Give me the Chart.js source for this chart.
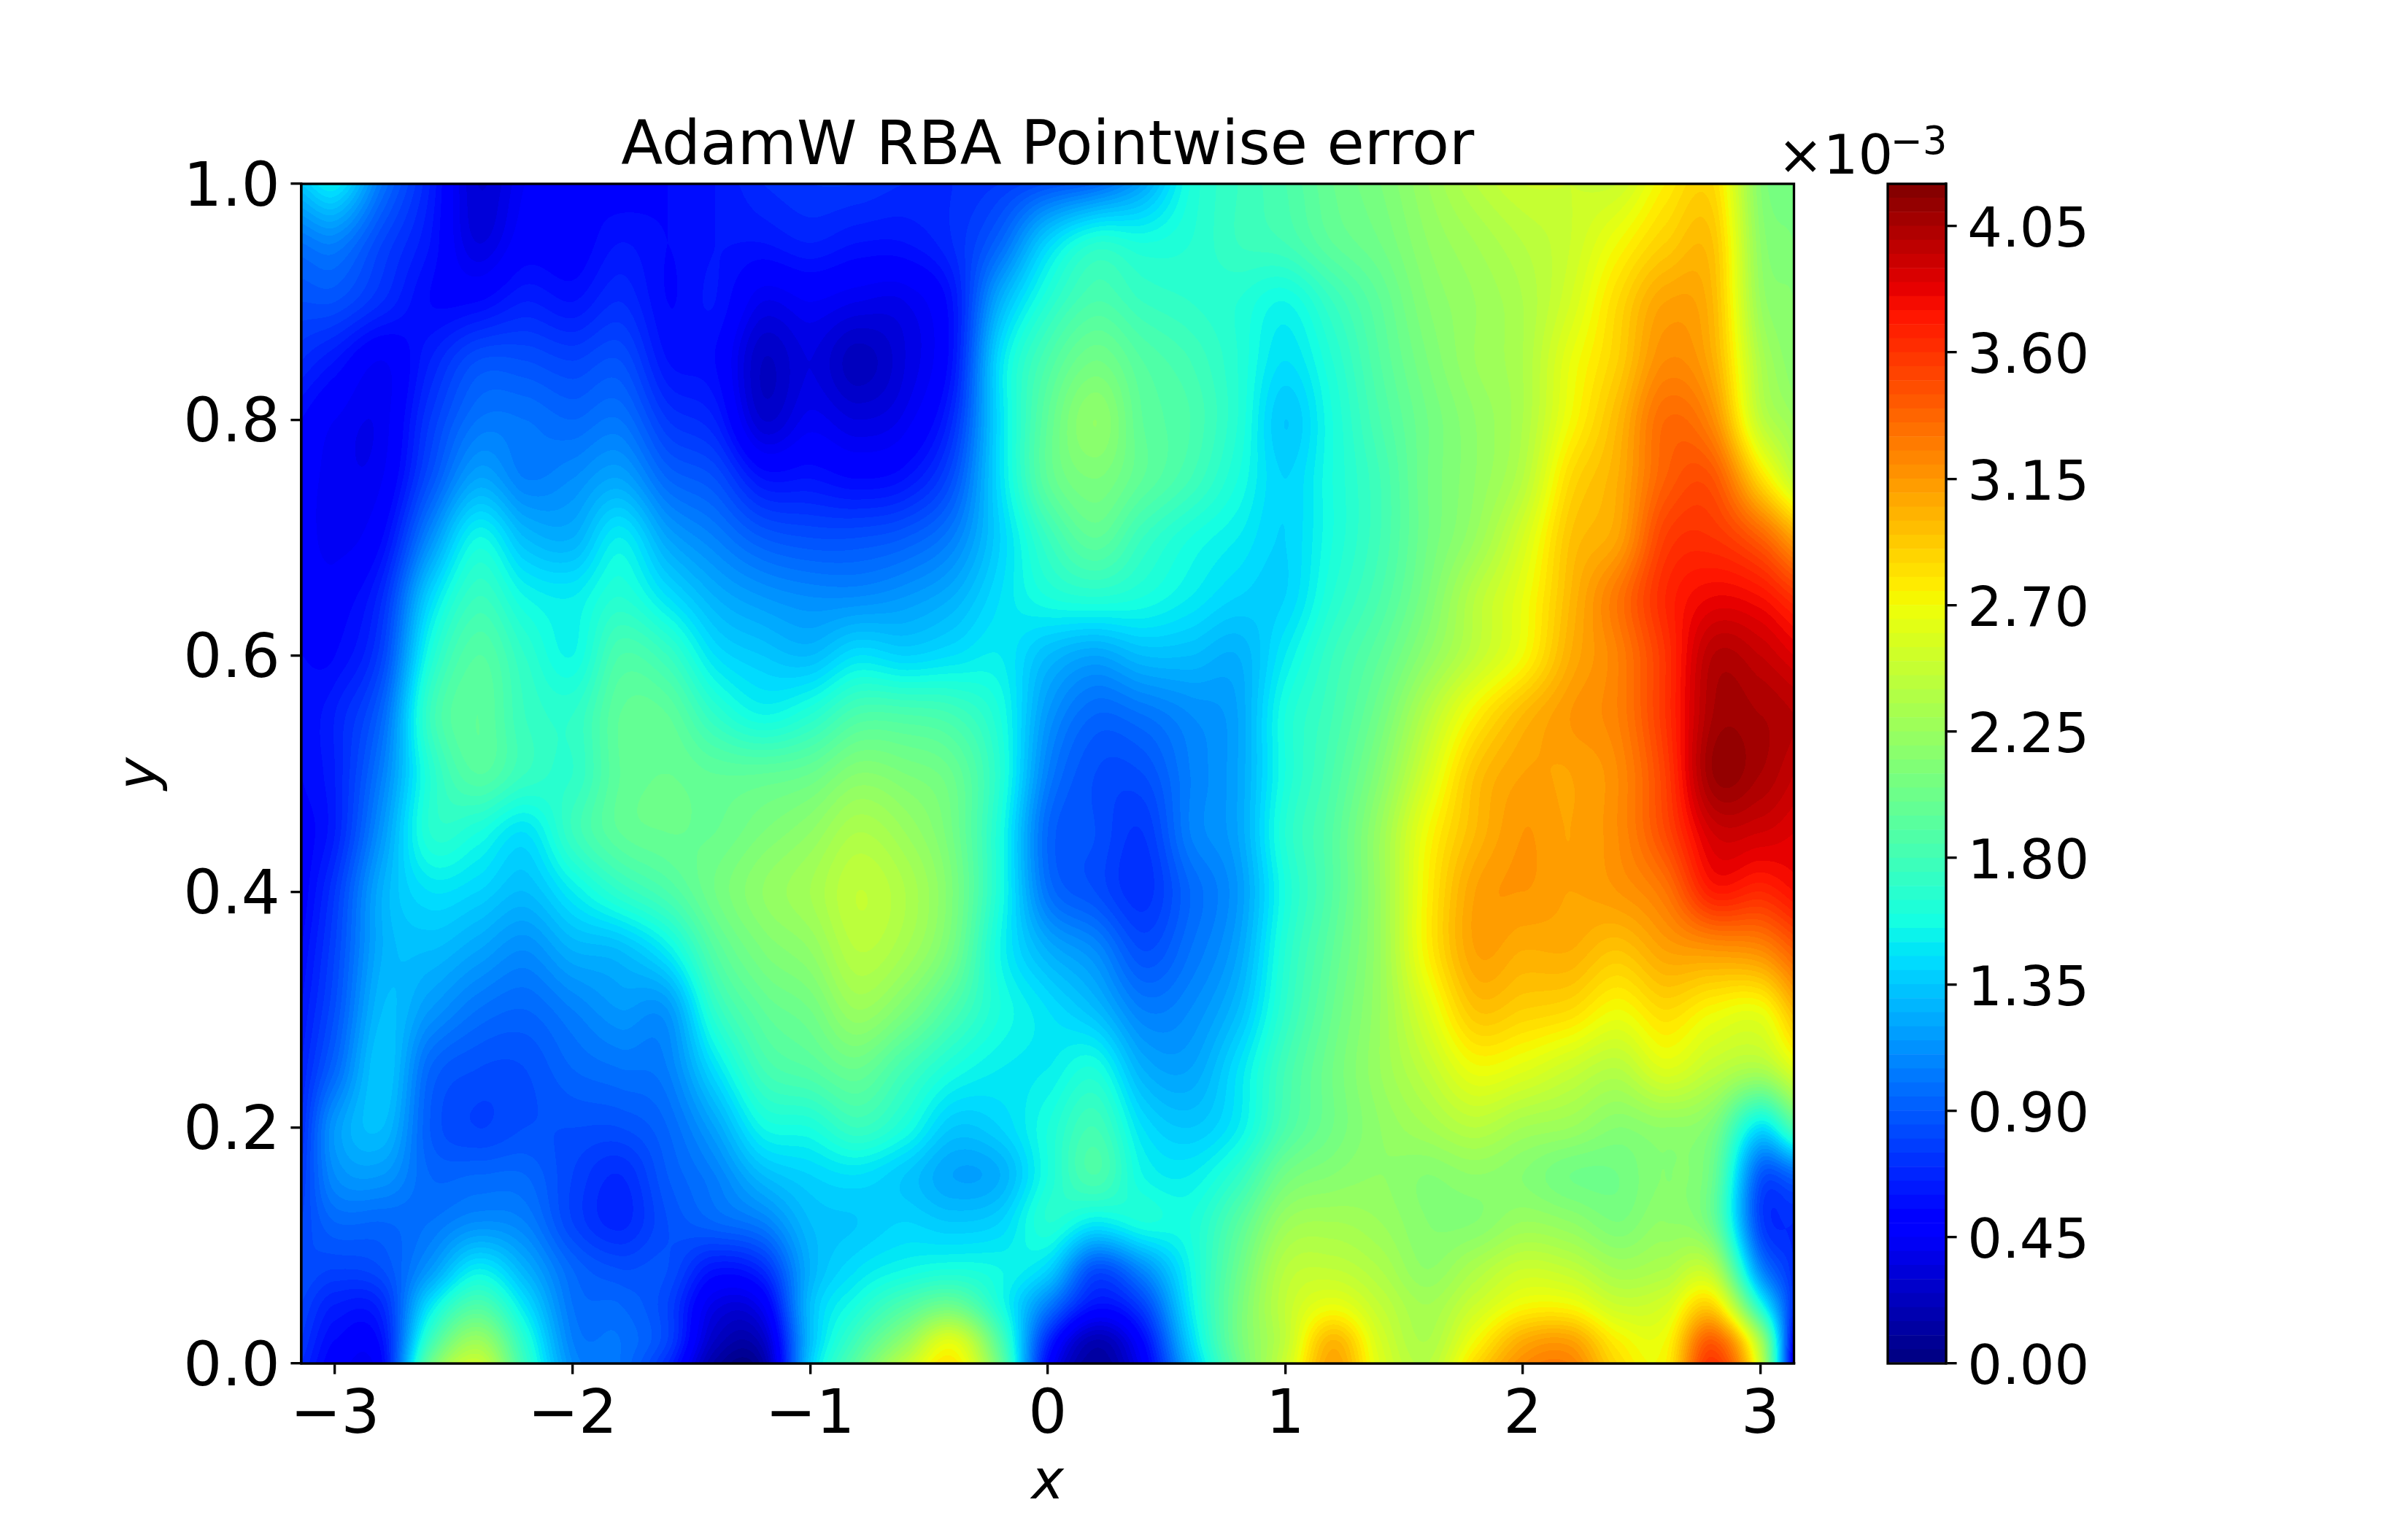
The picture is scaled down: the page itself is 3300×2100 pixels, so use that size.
<!DOCTYPE html>
<html><head><meta charset="utf-8">
<script src="https://cdn.jsdelivr.net/npm/chart.js@4"></script>
<style>html,body{margin:0;padding:0;background:#fff}canvas{position:absolute;left:0;top:0}</style>
</head><body>
<canvas id="main" width="3300" height="2100"></canvas>
<canvas id="cbar" width="3300" height="2100"></canvas>
<script>
// x positions of the read-off grid columns
const xGrid = [-3.1416,-3,-2.8,-2.6,-2.4,-2.2,-2,-1.8,-1.6,-1.4,-1.2,-1,-.8,-.6,-.4,-.2,0,.2,.4,.6,.8,1,1.2,1.4,1.6,1.8,2,2.2,2.4,2.6,2.8,3,3.1416];
// y positions of the read-off grid rows
const yGrid = [0,.02,.05,.08,.12,.16,.2,.25,.3,.35,.4,.45,.5,.55,.6,.65,.7,.75,.8,.85,.9,.95,1];
// pointwise error (units of 1e-3), one row per yGrid entry
const errorRows = [
[.7,.5,.55,2.0,2.5,1.75,1.1,1.0,.7,.13,.13,1.35,1.95,2.45,2.8,2.0,.55,.1,.45,1.3,2.0,2.5,3.1,2.6,2.4,2.85,3.2,3.25,2.85,2.75,3.6,2.5,.35],
[.75,.55,.6,1.75,2.25,1.65,1.05,1.0,.8,.25,.25,1.3,1.8,2.2,2.6,1.85,.7,.2,.55,1.4,2.05,2.45,3.0,2.55,2.35,2.7,3.05,3.1,2.75,2.7,3.4,2.3,.5],
[.8,.65,.7,1.45,1.85,1.45,1.0,.95,.8,.38,.45,1.3,1.6,1.85,2.0,1.6,1.05,.6,.8,1.5,2.05,2.45,2.65,2.45,2.3,2.5,2.7,2.7,2.5,2.55,2.85,1.6,.7],
[.85,.8,.85,1.15,1.5,1.25,.95,.85,.85,.6,.7,1.25,1.45,1.55,1.6,1.55,1.4,.85,1.1,1.55,2.0,2.4,2.45,2.35,2.2,2.35,2.5,2.45,2.3,2.35,2.4,1.1,.7],
[.8,.95,.95,1.0,1.1,1.05,.8,.68,.85,.95,1.05,1.3,1.35,1.4,1.35,1.4,1.65,1.5,1.6,1.6,1.9,2.25,2.3,2.25,2.15,2.15,2.25,2.2,2.1,2.2,2.0,.8,.7],
[.75,1.1,1.15,.95,.95,.95,.8,.7,.9,1.05,1.3,1.4,1.45,1.35,1.2,1.25,1.6,1.85,1.55,1.5,1.7,2.05,2.15,2.2,2.15,2.2,2.15,2.05,2.05,2.15,2.0,.9,.95],
[.7,1.15,1.3,.9,.8,.85,.85,.85,.95,1.2,1.55,1.6,1.75,1.6,1.35,1.4,1.6,1.8,1.45,1.35,1.5,1.85,2.05,2.2,2.3,2.4,2.3,2.25,2.15,2.2,2.1,1.45,1.85],
[.65,.95,1.35,.95,.85,.85,.95,1.0,1.05,1.45,1.8,1.9,2.0,1.8,1.6,1.5,1.5,1.6,1.25,1.2,1.45,1.8,2.05,2.25,2.45,2.68,2.62,2.5,2.4,2.6,2.45,2.35,2.6],
[.6,.85,1.3,1.15,1.0,.95,1.05,1.15,1.15,1.7,1.95,2.05,2.25,2.1,1.85,1.6,1.45,1.3,1.05,1.1,1.3,1.7,2.0,2.25,2.6,2.95,2.9,2.85,2.7,2.85,2.72,2.68,3.0],
[.55,.8,1.25,1.3,1.2,1.1,1.25,1.3,1.5,1.9,2.1,2.2,2.4,2.3,2.05,1.55,1.25,1.1,.85,1.0,1.2,1.65,1.95,2.25,2.75,3.1,3.05,3.05,2.95,3.1,3.15,3.2,3.4],
[.5,.75,1.25,1.45,1.4,1.3,1.5,1.7,1.85,2.05,2.2,2.3,2.45,2.35,2.1,1.6,1.0,.85,.72,.95,1.15,1.6,1.9,2.25,2.75,3.1,3.15,3.1,3.15,3.3,3.7,3.65,3.75],
[.5,.65,1.15,1.65,1.6,1.45,1.75,1.95,2.0,2.0,2.1,2.2,2.35,2.25,2.05,1.6,.95,.85,.75,1.05,1.2,1.65,1.9,2.25,2.7,3.0,3.15,3.1,3.2,3.5,3.9,3.9,3.85],
[.55,.65,1.05,1.65,1.9,1.75,1.7,1.95,2.0,1.95,1.95,2.0,2.15,2.1,2.0,1.65,1.05,.85,.85,1.05,1.2,1.6,1.85,2.15,2.55,2.95,3.1,3.1,3.2,3.55,4.1,4.05,3.95],
[.55,.65,.95,1.75,1.95,1.75,1.7,1.95,1.95,1.7,1.55,1.65,1.85,1.85,1.8,1.6,1.15,.95,1.0,1.1,1.2,1.6,1.8,2.05,2.4,2.75,3.0,3.15,3.25,3.6,4.05,4.05,4.0],
[.55,.55,.8,1.6,1.9,1.7,1.55,1.85,1.75,1.45,1.35,1.3,1.45,1.4,1.45,1.5,1.3,1.2,1.3,1.3,1.25,1.5,1.75,1.95,2.2,2.45,2.7,3.05,3.25,3.6,4.0,3.95,3.85],
[.52,.5,.7,1.4,1.75,1.55,1.5,1.65,1.45,1.25,1.15,1.1,1.1,1.15,1.25,1.45,1.6,1.65,1.6,1.5,1.4,1.4,1.65,1.85,2.1,2.4,2.65,3.0,3.3,3.65,3.8,3.75,3.6],
[.5,.42,.55,1.1,1.55,1.3,1.25,1.5,1.2,1.05,.9,.85,.85,.9,1.05,1.4,1.75,1.95,1.75,1.6,1.5,1.4,1.6,1.8,2.05,2.25,2.55,2.95,3.1,3.55,3.6,3.4,3.1],
[.5,.42,.45,.85,1.2,1.05,1.1,1.2,.95,.85,.6,.6,.55,.6,.85,1.45,1.95,2.1,1.95,1.8,1.6,1.4,1.6,1.8,2.05,2.2,2.4,2.85,3.05,3.4,3.45,2.85,2.45],
[.55,.45,.42,.75,1.0,1.0,.95,1.0,.75,.65,.3,.42,.35,.42,.7,1.45,1.95,2.2,1.95,1.85,1.65,1.35,1.6,1.85,2.05,2.2,2.35,2.7,3.0,3.35,3.2,2.45,2.25],
[.7,.6,.45,.65,.85,.85,.8,.85,.6,.55,.25,.35,.22,.35,.6,1.45,1.85,2.05,1.9,1.8,1.65,1.45,1.65,1.9,2.1,2.25,2.35,2.65,2.9,3.2,3.05,2.35,2.15],
[.85,.85,.7,.55,.55,.65,.6,.7,.55,.6,.4,.45,.4,.4,.6,1.25,1.65,1.85,1.75,1.7,1.65,1.55,1.75,1.95,2.15,2.25,2.35,2.55,2.85,3.1,3.0,2.25,2.15],
[1.0,1.05,.8,.6,.35,.5,.5,.6,.55,.6,.6,.65,.6,.6,.7,.95,1.4,1.65,1.6,1.65,1.75,1.8,1.95,2.05,2.2,2.3,2.4,2.5,2.7,2.9,2.95,2.2,2.1],
[1.35,1.5,1.0,.65,.3,.45,.55,.5,.55,.6,.7,.75,.75,.7,.7,.75,.85,.95,1.2,1.6,1.75,1.85,2.0,2.1,2.25,2.4,2.5,2.5,2.5,2.75,2.85,2.15,2.05]
];
const xTicks = [-3,-2,-1,0,1,2,3];
const xTickLabels = ['\u22123','\u22122','\u22121','0','1','2','3'];
const yTicks = [0,.2,.4,.6,.8,1];
const yTickLabels = ['0.0','0.2','0.4','0.6','0.8','1.0'];
const cbTicks = [0,.45,.9,1.35,1.8,2.25,2.7,3.15,3.6,4.05];
const cbTickLabels = ['0.00','0.45','0.90','1.35','1.80','2.25','2.70','3.15','3.60','4.05'];
// contour levels (units of 1e-3)
const levels = [0,.05,.1,.15,.2,.25,.3,.35,.4,.45,.5,.55,.6,.65,.7,.75,.8,.85,.9,.95,1,1.05,1.1,1.15,1.2,1.25,1.3,1.35,1.4,1.45,1.5,1.55,1.6,1.65,1.7,1.75,1.8,1.85,1.9,1.95,2,2.05,2.1,2.15,2.2,2.25,2.3,2.35,2.4,2.45,2.5,2.55,2.6,2.65,2.7,2.75,2.8,2.85,2.9,2.95,3,3.05,3.1,3.15,3.2,3.25,3.3,3.35,3.4,3.45,3.5,3.55,3.6,3.65,3.7,3.75,3.8,3.85,3.9,3.95,4,4.05,4.1,4.15,4.2];
const FONT = '"DejaVu Sans"';
const LW = 3.33;

function lerpStops(t, xs, ys){
  for(let i=1;i<xs.length;i++) if(t<=xs[i]) return ys[i-1]+(ys[i]-ys[i-1])*(t-xs[i-1])/(xs[i]-xs[i-1]);
  return ys[ys.length-1];
}
function jet(t){
  return [
    Math.round(255*lerpStops(t,[0,.35,.66,.89,1],[0,0,1,1,.5])),
    Math.round(255*lerpStops(t,[0,.125,.375,.64,.91,1],[0,0,1,1,0,0])),
    Math.round(255*lerpStops(t,[0,.11,.34,.65,1],[.5,1,1,0,0]))];
}
const vMax = levels[levels.length-1];
const nBands = levels.length-1;
const bandColors = [];
for(let i=0;i<nBands;i++) bandColors.push(jet((levels[i]+levels[i+1])/2/vMax));

function tangents(g,v){
  const n=g.length,m=new Array(n);
  for(let i=0;i<n;i++){
    const a=Math.max(0,i-1),b=Math.min(n-1,i+1);
    m[i]=(v[b]-v[a])/(g[b]-g[a]);
  }
  return m;
}
function hermite(g,v,m,i,q){
  const h=g[i+1]-g[i],t=(q-g[i])/h,t2=t*t,t3=t2*t;
  return (2*t3-3*t2+1)*v[i]+(t3-2*t2+t)*h*m[i]+(-2*t3+3*t2)*v[i+1]+(t3-t2)*h*m[i+1];
}
const fieldPlugin = {
  id:'field',
  beforeDatasetsDraw(chart){
    const sx=chart.scales.x, sy=chart.scales.y, ctx=chart.ctx;
    const x0=Math.round(sx.getPixelForValue(xGrid[0])), x1=Math.round(sx.getPixelForValue(xGrid[xGrid.length-1]));
    const y0=Math.round(sy.getPixelForValue(yGrid[yGrid.length-1])), y1=Math.round(sy.getPixelForValue(yGrid[0]));
    const W=x1-x0,H=y1-y0,off=document.createElement('canvas');
    off.width=W;off.height=H;
    const oc=off.getContext('2d'),img=oc.createImageData(W,H),d=img.data;
    const nC=xGrid.length,nR=yGrid.length;
    const colVals=[],colTan=[];
    for(let c=0;c<nC;c++){const v=errorRows.map(r=>r[c]);colVals.push(v);colTan.push(tangents(yGrid,v));}
    for(let py=0;py<H;py++){
      const q=sy.getValueForPixel(y0+py+.5);
      let ri=0;while(ri<nR-2&&q>yGrid[ri+1])ri++;
      const rowV=new Array(nC);
      for(let c=0;c<nC;c++) rowV[c]=hermite(yGrid,colVals[c],colTan[c],ri,q);
      const rowT=tangents(xGrid,rowV);
      let ci=0;
      for(let px=0;px<W;px++){
        const qx=sx.getValueForPixel(x0+px+.5);
        while(ci<nC-2&&qx>xGrid[ci+1])ci++;
        const val=hermite(xGrid,rowV,rowT,ci,qx);
        let b=Math.floor(val/vMax*nBands);b=Math.max(0,Math.min(nBands-1,b));
        const col=bandColors[b],k=(py*W+px)*4;
        d[k]=col[0];d[k+1]=col[1];d[k+2]=col[2];d[k+3]=255;
      }
    }
    oc.putImageData(img,0,0);
    ctx.drawImage(off,x0,y0);
  }
};
const framePlugin = {
  id:'frame',
  afterDraw(chart){
    const a=chart.chartArea,ctx=chart.ctx;
    ctx.save();ctx.strokeStyle='#000';ctx.lineWidth=LW;
    ctx.strokeRect(a.left,a.top,a.right-a.left,a.bottom-a.top);
    ctx.restore();
  }
};
// nudges vertical-axis tick labels so the digits sit centred on their ticks
const labelNudgePlugin = {
  id:'labelNudge',
  beforeDraw(chart,args,opts){
    const s=chart.scales.y;
    if(s._nudged) return;
    s.getLabelItems(chart.chartArea).forEach(it=>{it.options.translation[1]+=opts.dy;});
    s._nudged=true;
  }
};
const offsetTextPlugin = {
  id:'offsetText',
  afterDraw(chart){
    const ctx=chart.ctx;
    ctx.save();ctx.fillStyle='#000';ctx.textBaseline='alphabetic';ctx.textAlign='left';
    ctx.font='75px '+FONT;
    ctx.fillText('\u00d710',2436,238);
    ctx.font='52.5px '+FONT;
    ctx.fillText('\u22123',2591,211);
    ctx.restore();
  }
};
const gridPoints=[];
yGrid.forEach((y,r)=>xGrid.forEach((x,c)=>gridPoints.push({x,y,v:errorRows[r][c]})));

new Chart(document.getElementById('main'),{
  type:'scatter',
  data:{datasets:[{label:'Pointwise error',data:gridPoints,pointRadius:0,pointHoverRadius:0,showLine:false}]},
  plugins:[fieldPlugin,framePlugin,labelNudgePlugin],
  options:{
    responsive:false,animation:false,
    layout:{padding:{top:0,left:0,right:3300-2458.5,bottom:0}},
    plugins:{legend:{display:false},tooltip:{enabled:false},labelNudge:{dy:8},
      title:{display:true,text:'AdamW RBA Pointwise error',fullSize:false,color:'#000',
        font:{family:FONT,size:83.3,weight:'normal',lineHeight:1.1645},padding:{top:155,bottom:0}}},
    scales:{
      x:{type:'linear',min:-Math.PI,max:Math.PI,
        afterFit(s){s.height=231;},
        afterBuildTicks(s){s.ticks=xTicks.map(v=>({value:v}));},
        grid:{drawOnChartArea:false,drawTicks:true,tickLength:14.6,tickWidth:LW,tickColor:'#000',lineWidth:LW},
        border:{display:true,color:'#000',width:LW},
        ticks:{color:'#000',font:{family:FONT,size:83.3},padding:8.6,autoSkip:false,maxRotation:0,callback:(v,i)=>xTickLabels[i]},
        title:{display:true,text:'x',color:'#000',font:{family:FONT,size:75,style:'italic',weight:'normal'},padding:{top:0,bottom:20}}
      },
      y:{type:'linear',min:0,max:1,
        afterFit(s){s.width=413;},
        afterBuildTicks(s){s.ticks=yTicks.map(v=>({value:v}));},
        grid:{drawOnChartArea:false,drawTicks:true,tickLength:14.6,tickWidth:LW,tickColor:'#000',lineWidth:LW},
        border:{display:true,color:'#000',width:LW},
        ticks:{color:'#000',font:{family:FONT,size:83.3},padding:14.6,autoSkip:false,callback:(v,i)=>yTickLabels[i]},
        title:{display:true,text:'y',color:'#000',font:{family:FONT,size:75,style:'italic',weight:'normal'},padding:{top:150,bottom:0}}
      }
    }
  }
});

new Chart(document.getElementById('cbar'),{
  type:'bar',
  data:{labels:['error'],datasets:bandColors.map((c,i)=>({
    label:levels[i]+'\u2013'+levels[i+1],data:[levels[i+1]-levels[i]],stack:'c',
    backgroundColor:'rgb('+c.join(',')+')',borderWidth:0,categoryPercentage:1,barPercentage:1}))},
  plugins:[framePlugin,offsetTextPlugin,labelNudgePlugin],
  options:{
    responsive:false,animation:false,
    layout:{padding:{top:252,left:2587,right:0,bottom:231}},
    plugins:{legend:{display:false},tooltip:{enabled:false},title:{display:false},labelNudge:{dy:9}},
    scales:{
      x:{display:false,stacked:true},
      y:{type:'linear',position:'right',stacked:true,min:0,max:vMax,
        afterFit(s){s.width=633;},
        afterBuildTicks(s){s.ticks=cbTicks.map(v=>({value:v}));},
        grid:{drawOnChartArea:false,drawTicks:true,tickLength:14.6,tickWidth:LW,tickColor:'#000',lineWidth:LW},
        border:{display:true,color:'#000',width:LW},
        ticks:{color:'#000',font:{family:FONT,size:75},padding:14.6,autoSkip:false,callback:(v,i)=>cbTickLabels[i]}
      }
    }
  }
});
</script>
</body></html>
